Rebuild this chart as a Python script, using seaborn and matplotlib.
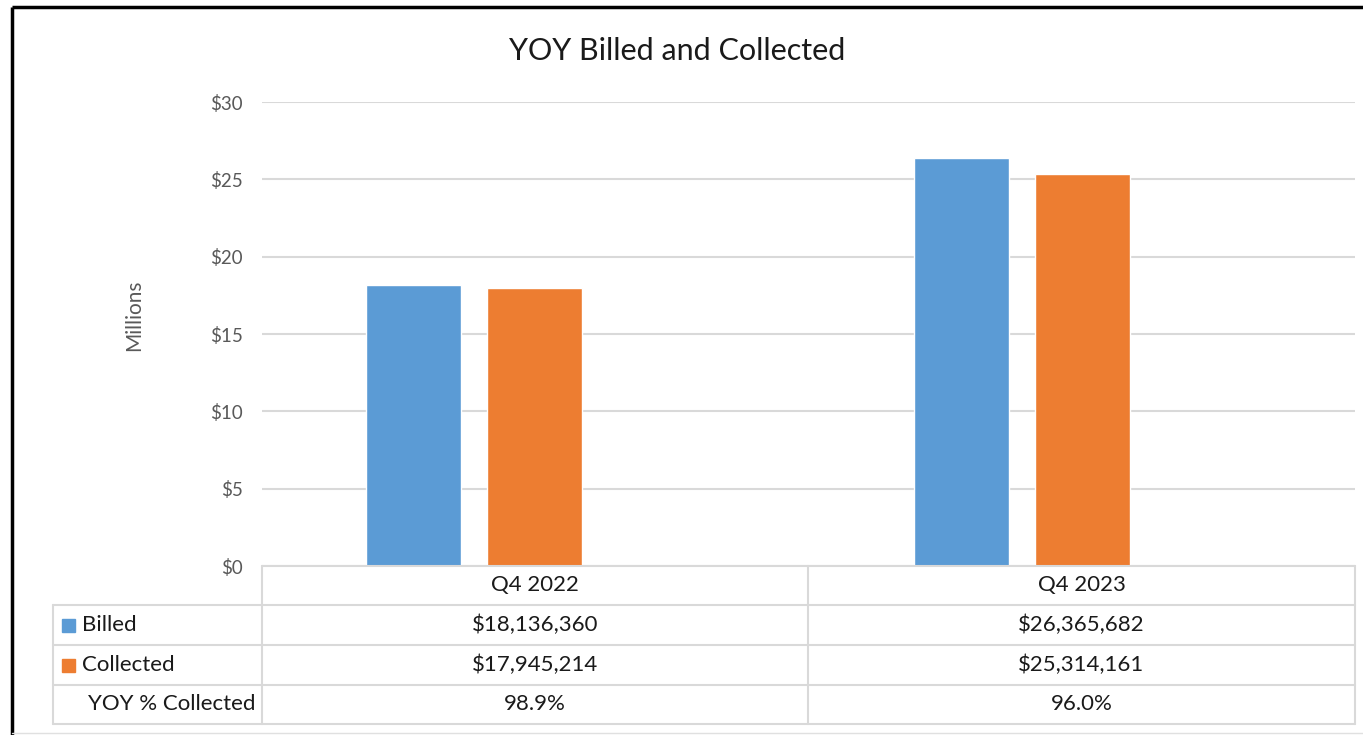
import matplotlib
matplotlib.use("Agg")
import matplotlib.pyplot as plt
import seaborn as sns
import pandas as pd

# ---- data ----
categories = ["Q4 2022", "Q4 2023"]
series_names = ["Billed", "Collected"]
billed = [18136360, 26365682]
collected = [17945214, 25314161]
yoy_pct = ["98.9%", "96.0%"]
ytick_values = [0, 5, 10, 15, 20, 25, 30]
title = "YOY Billed and Collected"
ylabel = "Millions"
colors = ["#5B9BD5", "#ED7D31"]

sns.set_theme(style="white")
plt.rcParams["font.family"] = ["Lato", "DejaVu Sans"]

W, H = 1363, 735
fig = plt.figure(figsize=(W / 100, H / 100), dpi=100)
fig.patch.set_facecolor("white")

# plot area in pixel coordinates
x0, x1, ytop, ybot = 262, 1355, 102, 566
ax = fig.add_axes([x0 / W, 1 - ybot / H, (x1 - x0) / W, (ybot - ytop) / H])

df = pd.DataFrame({
    "Quarter": categories * 2,
    "Series": [series_names[0]] * 2 + [series_names[1]] * 2,
    "Value": [v / 1e6 for v in billed] + [v / 1e6 for v in collected],
})
sns.barplot(data=df, x="Quarter", y="Value", hue="Series", palette=colors,
            width=0.442, gap=0.215, ax=ax, legend=False, saturation=1)

ax.set_ylim(0, 30)
ax.set_xlim(-0.388, 1.608)
ax.set_yticks(ytick_values)
ax.set_yticklabels([f"${v}" for v in ytick_values], color="#595959", fontsize=13.5)
ax.tick_params(axis="y", length=0, pad=14)
ax.set_xticks([])
ax.set_xlabel("")
ax.set_ylabel(ylabel, color="#595959", fontsize=15)
ax.yaxis.set_label_coords((144 - x0) / (x1 - x0), (ybot - 315) / (ybot - ytop))
ax.grid(axis="y", color="#D9D9D9", linewidth=1.5)
ax.set_axisbelow(True)
for s in ax.spines.values():
    s.set_visible(False)

fig.text(677 / W, 1 - 51 / H, title, ha="center", va="center", fontsize=22, color="#1a1a1a")

# ---- data table overlay (pixel coordinates) ----
tax = fig.add_axes([0, 0, 1, 1], facecolor="none")
tax.set_xlim(0, W)
tax.set_ylim(H, 0)
tax.axis("off")
gc = "#D9D9D9"
lw = 1.5
row_y = [566, 605, 645, 685, 724]
col_x = [53, 262, 808, 1355]
# horizontal lines
tax.plot([262, 1355], [566, 566], color=gc, lw=lw)
for y in row_y[1:]:
    tax.plot([53, 1355], [y, y], color=gc, lw=lw)
# vertical lines
tax.plot([53, 53], [605, 724], color=gc, lw=lw)
for x in col_x[1:]:
    tax.plot([x, x], [566, 724], color=gc, lw=lw)

centers = [(262 + 808) / 2, (808 + 1355) / 2]
rc = [(row_y[i] + row_y[i + 1]) / 2 for i in range(4)]
tfs = 16
tc = "#1a1a1a"
for j, c in enumerate(categories):
    tax.text(centers[j], rc[0], c, ha="center", va="center", fontsize=tfs, color=tc)
    tax.text(centers[j], rc[1], f"${billed[j]:,}", ha="center", va="center", fontsize=tfs, color=tc)
    tax.text(centers[j], rc[2], f"${collected[j]:,}", ha="center", va="center", fontsize=tfs, color=tc)
    tax.text(centers[j], rc[3], yoy_pct[j], ha="center", va="center", fontsize=tfs, color=tc)

for i, (name, col) in enumerate(zip(series_names, colors)):
    yc = rc[1 + i]
    tax.add_patch(plt.Rectangle((62, yc - 6), 13, 13, color=col))
    tax.text(82, yc, name, ha="left", va="center", fontsize=tfs, color=tc)
tax.text(88, rc[3], "YOY % Collected", ha="left", va="center", fontsize=tfs, color=tc)

# outer border (top and left visible)
tax.plot([12, W], [7, 7], color="black", lw=2.5, solid_capstyle="butt")
tax.plot([12, 12], [7, H], color="black", lw=2.5, solid_capstyle="butt")
tax.plot([12, W], [733, 733], color="#E0E0E0", lw=1)

fig.savefig("out.png", dpi=100, facecolor="white")
